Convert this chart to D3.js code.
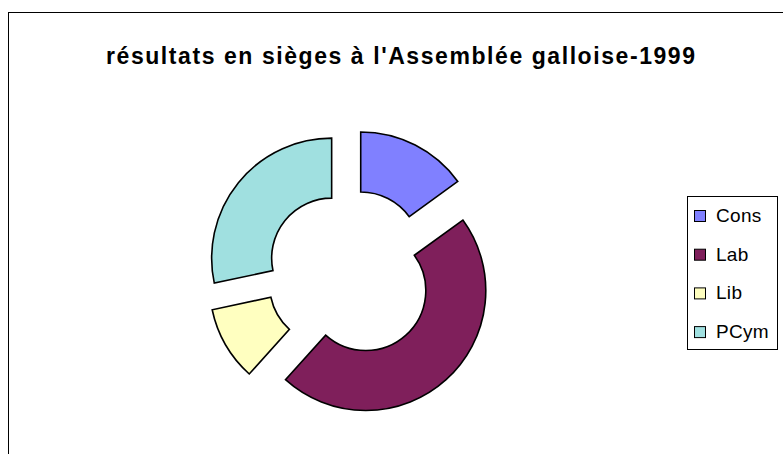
<!DOCTYPE html>
<html>
<head>
<meta charset="utf-8">
<script src="https://cdn.jsdelivr.net/npm/d3@7"></script>
<style>
  body { margin: 0; background: #fff; }
  svg { display: block; font-family: "Liberation Sans", Arial, sans-serif; }
</style>
</head>
<body>
<svg id="chart"></svg>
<script>
// chart data
const parties = ['Cons', 'Lab', 'Lib', 'PCym'];
const seats = [9, 28, 6, 17];
const colors = ['#8080ff', '#7f1f5b', '#ffffc0', '#a0e0e0'];
const title = "résultats en sièges à l'Assemblée galloise-1999";

const width = 783;
const height = 454;

const svg = d3.select('#chart')
    .attr('width', width)
    .attr('height', height);

// outer frame (runs off the right and bottom of the picture)
svg.append('rect')
    .attr('x', 8.5)
    .attr('y', 12.5)
    .attr('width', 800)
    .attr('height', 500)
    .attr('fill', 'none')
    .attr('stroke', '#000')
    .attr('stroke-width', 1);

svg.append('text')
    .attr('x', 400.5)
    .attr('y', 64)
    .attr('text-anchor', 'middle')
    .attr('font-size', 23)
    .attr('font-weight', 'bold')
    .attr('textLength', 589)
    .attr('lengthAdjust', 'spacing')
    .text(title);

const cx = 350, cy = 273;
const outer = 120, inner = 60, explode = 23.6;

const pie = d3.pie().sort(null).value(d => d.seats);
const arc = d3.arc().innerRadius(inner).outerRadius(outer);

const data = parties.map((p, i) => ({ party: p, seats: seats[i], color: colors[i] }));

const g = svg.append('g').attr('transform', `translate(${cx},${cy})`);

// exploded donut: each slice pushed out along its bisector
g.selectAll('path')
    .data(pie(data))
    .join('path')
    .attr('transform', d => {
        const a = (d.startAngle + d.endAngle) / 2;
        return `translate(${Math.sin(a) * explode},${-Math.cos(a) * explode})`;
    })
    .attr('d', arc)
    .attr('fill', d => d.data.color)
    .attr('stroke', '#000')
    .attr('stroke-width', 1.6)
    .attr('stroke-linejoin', 'miter');

// legend
const legend = svg.append('g').attr('transform', 'translate(687,196)');
legend.append('rect')
    .attr('x', 0.5).attr('y', 0.5)
    .attr('width', 90).attr('height', 153)
    .attr('fill', '#fff')
    .attr('stroke', '#000');

const item = legend.selectAll('g.item')
    .data(data)
    .join('g')
    .attr('class', 'item')
    .attr('transform', (d, i) => `translate(0,${26 + i * 38.7})`);

item.append('rect')
    .attr('x', 7.5).attr('y', -11.5)
    .attr('width', 11).attr('height', 11)
    .attr('fill', d => d.color)
    .attr('stroke', '#000');

item.append('text')
    .attr('x', 29)
    .attr('y', 0)
    .attr('font-size', 19)
    .attr('letter-spacing', 0.3)
    .text(d => d.party);
</script>
</body>
</html>
